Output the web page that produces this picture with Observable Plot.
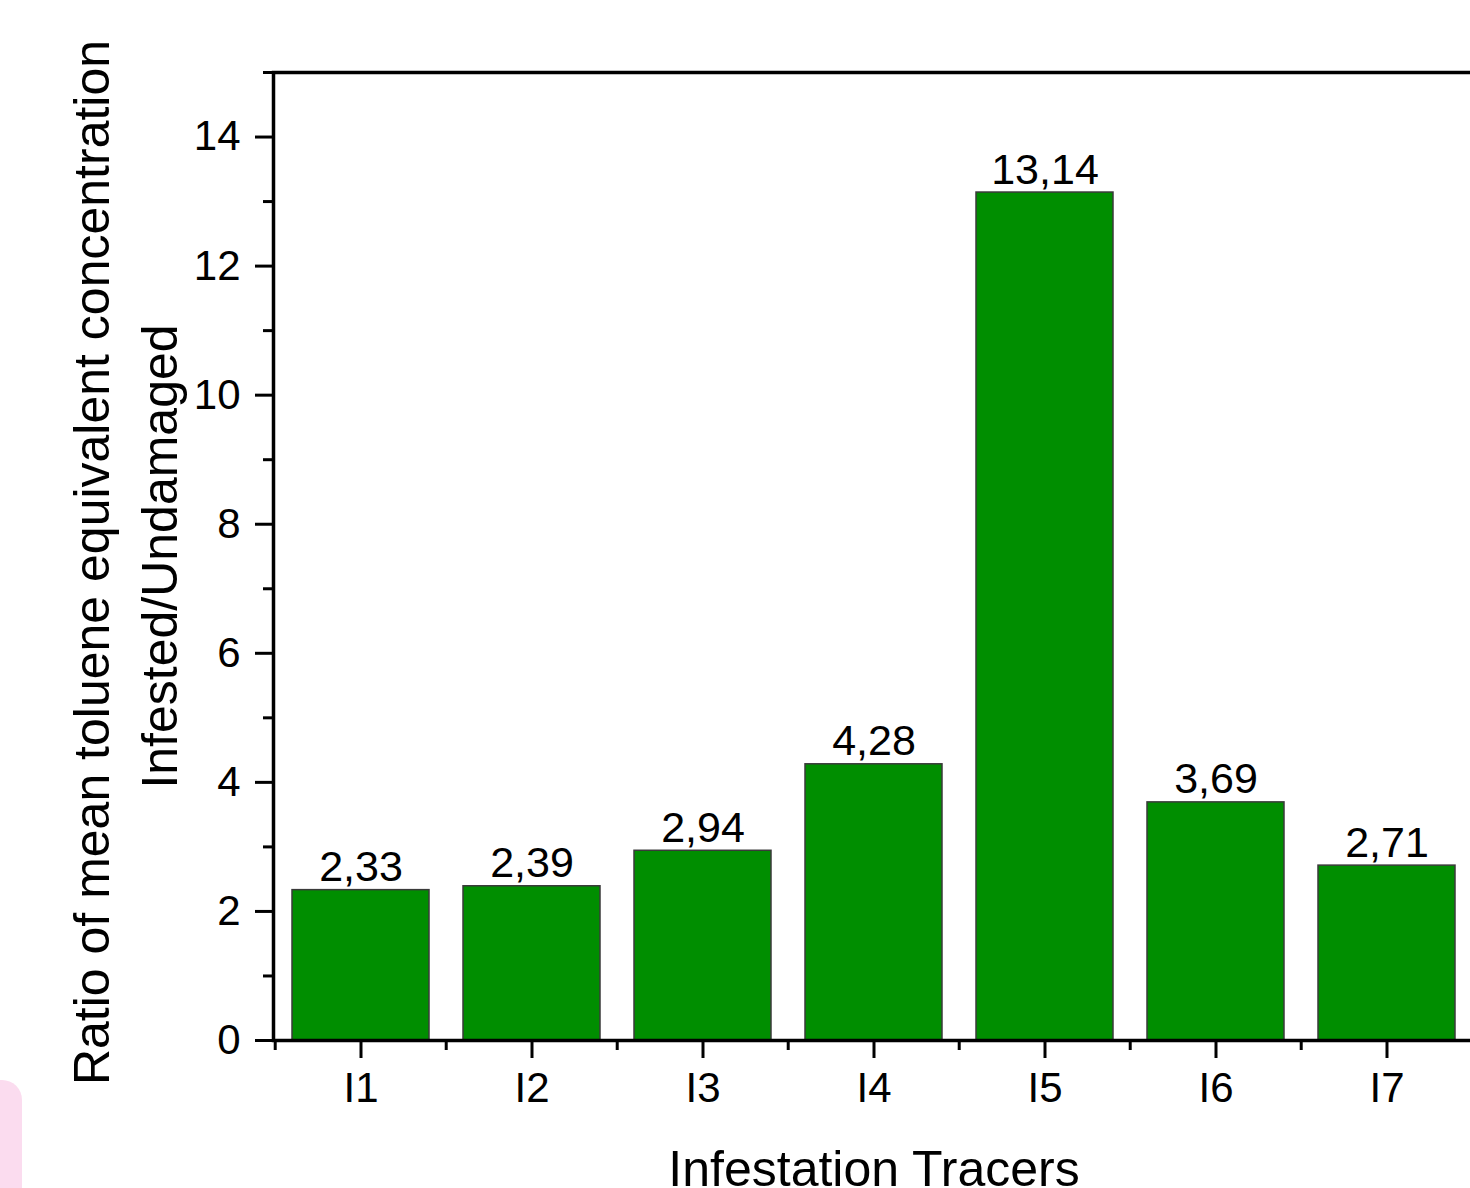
<!DOCTYPE html>
<html><head><meta charset="utf-8">
<script src="https://cdn.jsdelivr.net/npm/d3@7"></script>
<script src="https://cdn.jsdelivr.net/npm/@observablehq/plot@0.6"></script>
<style>
html,body{margin:0;padding:0;background:#fff;overflow:hidden;width:1470px;height:1188px;}
#chart{position:absolute;left:0;top:0;width:1470px;height:1188px;overflow:hidden;}
#blob{position:absolute;left:0;top:1080px;width:22px;height:108px;background:#fbdcef;border-top-right-radius:20px;z-index:2;}
</style></head><body>
<div id="chart"></div>
<div id="blob"></div>
<script>
const tracers = ["I1", "I2", "I3", "I4", "I5", "I6", "I7"];
const ratios = [2.33, 2.39, 2.94, 4.28, 13.14, 3.69, 2.71];
const yMajorTicks = [0, 2, 4, 6, 8, 10, 12, 14];
const yMinorTicks = [1, 3, 5, 7, 9, 11, 13, 15];
const xTitle = "Infestation Tracers";
const yTitleLines = ["Ratio of mean toluene equivalent concentration", "Infested/Undamaged"];

const data = tracers.map((t, i) => ({tracer: t, ratio: ratios[i]}));
const W = 1470, H = 1188, ML = 273, MR = -4, MT = 72, MB = 148;
const step = (W - ML - MR) / tracers.length;
const font = "'Liberation Sans', Arial, Helvetica, sans-serif";

const plot = Plot.plot({
  width: W, height: H,
  marginLeft: ML, marginRight: MR, marginTop: MT, marginBottom: MB,
  style: {fontFamily: font, color: "#000", background: "#fff", overflow: "hidden"},
  x: {domain: tracers, range: [ML, W - MR], paddingInner: 0.2, paddingOuter: 0.1, label: null},
  y: {domain: [0, 15], label: null},
  marks: [
    Plot.barY(data, {x: "tracer", y: "ratio", fill: "#008e00", stroke: "#3a3a3a", strokeWidth: 1.5}),
    Plot.text(data, {x: "tracer", y: "ratio", text: d => d.ratio.toFixed(2).replace(".", ","), lineAnchor: "bottom", dy: -9, fontSize: 43, fill: "#000"}),
    Plot.axisY({ticks: yMajorTicks, tickSize: 18, tickPadding: 15, fontSize: 42, strokeWidth: 3, label: null, tickFormat: d => String(d)}),
    Plot.axisY({ticks: yMinorTicks, tickSize: 10, fill: "none", strokeWidth: 3, label: null}),
    Plot.axisX({tickSize: 18, tickPadding: 14, fontSize: 42, strokeWidth: 3, label: null}),
    Plot.axisX({ticks: tracers, tickSize: 10, fill: "none", strokeWidth: 3, label: null, dx: -step / 2}),
    Plot.axisX({ticks: [tracers[tracers.length - 1]], tickSize: 10, fill: "none", strokeWidth: 3, label: null, dx: step / 2}),
    Plot.frame({stroke: "#000", strokeWidth: 3.5}),
    Plot.text([xTitle], {text: d => d, frameAnchor: "bottom", textAnchor: "middle", dy: 145, lineAnchor: "bottom", fontSize: 50, fill: "#000"}),
    Plot.text([yTitleLines[0]], {text: d => d, frameAnchor: "left", textAnchor: "middle", rotate: -90, dx: -165, dy: 6, lineAnchor: "bottom", fontSize: 50, fill: "#000"}),
    Plot.text([yTitleLines[1]], {text: d => d, frameAnchor: "left", textAnchor: "middle", rotate: -90, dx: -97, lineAnchor: "bottom", fontSize: 50, fill: "#000"})
  ]
});
document.getElementById("chart").appendChild(plot);
</script>
</body></html>
